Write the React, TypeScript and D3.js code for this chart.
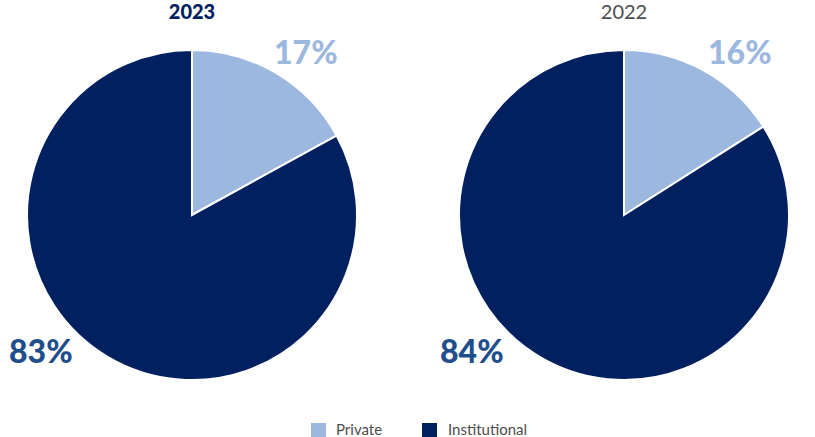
import React from "react";
import * as d3 from "d3";

const categories = ["Private", "Institutional"];
const years = ["2023", "2022"];
const values2023 = [17, 83];
const values2022 = [16, 84];
const colors = ["#9DB8DF", "#002060"];
const labelColors = ["#9DB8DF", "#1F4E8C"];

const W = 815, H = 437;

function Pie({ cx, cy, r, values, title, bold, labelPos }: any) {
  const pie = d3.pie<number>().sort(null).value((d) => d);
  const arc = d3.arc<d3.PieArcDatum<number>>().innerRadius(0).outerRadius(r);
  const arcs = pie(values);
  return (
    <g>
      <text x={cx} y={19} textAnchor="middle" fontFamily="Lato, sans-serif" fontSize={20}
        fontWeight={bold ? 900 : 400} fill={bold ? "#002060" : "#4D4D4D"}>{title}</text>
      <g transform={`translate(${cx},${cy})`}>
        {arcs.map((a, i) => (
          <path key={i} d={arc(a) || ""} fill={colors[i]} stroke="#fff" strokeWidth={2} />
        ))}
      </g>
      {arcs.map((a, i) => (
        <text key={"l" + i} x={labelPos[i][0]} y={labelPos[i][1]} textAnchor="start"
          fontFamily="Lato, sans-serif" fontWeight={900} fontSize={32} fill={labelColors[i]}>
          {values[i]}%
        </text>
      ))}
    </g>
  );
}

export default function App() {
  return (
    <svg width={W} height={H} style={{ display: "block", position: "absolute", left: 0, top: 0 }}>
      <rect width={W} height={H} fill="#fff" />
      <Pie cx={192} cy={215} r={165} values={values2023} title={years[0]} bold
        labelPos={[[274, 64], [9, 363]]} />
      <Pie cx={624} cy={215} r={165} values={values2022} title={years[1]} bold={false}
        labelPos={[[708, 64], [440, 363]]} />
      <g fontFamily="Lato, sans-serif" fontSize={15} fill="#4D4D4D">
        <rect x={311} y={423} width={15} height={14} fill={colors[0]} />
        <text x={336} y={435}>{categories[0]}</text>
        <rect x={422} y={423} width={15} height={14} fill={colors[1]} />
        <text x={448} y={435}>{categories[1]}</text>
      </g>
    </svg>
  );
}
